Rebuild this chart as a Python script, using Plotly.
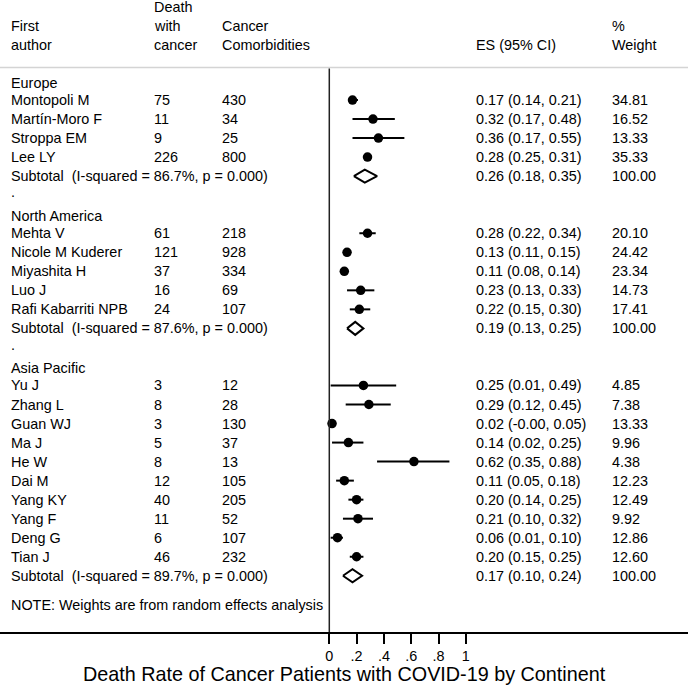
import plotly.graph_objects as go

# ---------------- data ----------------
authors = ["Montopoli M", "Martín-Moro F", "Stroppa EM", "Lee LY",
           "Mehta V", "Nicole M Kuderer", "Miyashita H", "Luo J", "Rafi Kabarriti NPB",
           "Yu J", "Zhang L", "Guan WJ", "Ma J", "He W", "Dai M", "Yang KY", "Yang F", "Deng G", "Tian J"]
groups = ["Europe"] * 4 + ["North America"] * 5 + ["Asia Pacific"] * 10
deaths = [75, 11, 9, 226, 61, 121, 37, 16, 24, 3, 8, 3, 5, 8, 12, 40, 11, 6, 46]
cancer = [430, 34, 25, 800, 218, 928, 334, 69, 107, 12, 28, 130, 37, 13, 105, 205, 52, 107, 232]
es = [0.17, 0.32, 0.36, 0.28, 0.28, 0.13, 0.11, 0.23, 0.22,
      0.25, 0.29, 0.02, 0.14, 0.62, 0.11, 0.20, 0.21, 0.06, 0.20]
lo = [0.14, 0.17, 0.17, 0.25, 0.22, 0.11, 0.08, 0.13, 0.15,
      0.01, 0.12, -0.00, 0.02, 0.35, 0.05, 0.14, 0.10, 0.01, 0.15]
hi = [0.21, 0.48, 0.55, 0.31, 0.34, 0.15, 0.14, 0.33, 0.30,
      0.49, 0.45, 0.05, 0.25, 0.88, 0.18, 0.25, 0.32, 0.10, 0.25]
es_txt = ["0.17 (0.14, 0.21)", "0.32 (0.17, 0.48)", "0.36 (0.17, 0.55)", "0.28 (0.25, 0.31)",
          "0.28 (0.22, 0.34)", "0.13 (0.11, 0.15)", "0.11 (0.08, 0.14)", "0.23 (0.13, 0.33)", "0.22 (0.15, 0.30)",
          "0.25 (0.01, 0.49)", "0.29 (0.12, 0.45)", "0.02 (-0.00, 0.05)", "0.14 (0.02, 0.25)", "0.62 (0.35, 0.88)",
          "0.11 (0.05, 0.18)", "0.20 (0.14, 0.25)", "0.21 (0.10, 0.32)", "0.06 (0.01, 0.10)", "0.20 (0.15, 0.25)"]
weights = ["34.81", "16.52", "13.33", "35.33",
           "20.10", "24.42", "23.34", "14.73", "17.41",
           "4.85", "7.38", "13.33", "9.96", "4.38", "12.23", "12.49", "9.92", "12.86", "12.60"]

group_names = ["Europe", "North America", "Asia Pacific"]
sub_label = ["Subtotal  (I-squared = 86.7%, p = 0.000)",
             "Subtotal  (I-squared = 87.6%, p = 0.000)",
             "Subtotal  (I-squared = 89.7%, p = 0.000)"]
sub_es = [0.26, 0.19, 0.17]
sub_lo = [0.18, 0.13, 0.10]
sub_hi = [0.35, 0.25, 0.24]
sub_txt = ["0.26 (0.18, 0.35)", "0.19 (0.13, 0.25)", "0.17 (0.10, 0.24)"]
sub_w = ["100.00", "100.00", "100.00"]

tick_vals = [0, 0.2, 0.4, 0.6, 0.8, 1]
tick_text = ["0", ".2", ".4", ".6", ".8", "1"]
x_title = "Death Rate of Cancer Patients with COVID-19 by Continent"
note = "NOTE: Weights are from random effects analysis"

# ---------------- layout constants ----------------
W, H = 688, 687
ZERO_PX, UNIT_PX = 329.3, 136.5
ROW0_PX, ROW_PX = 81.0, 19.03
AXIS_PX = 632
FONT = "Liberation Sans, Arial, Helvetica, sans-serif"
FS = 14.4

def px2row(p):
    return (p - ROW0_PX) / ROW_PX

x_range = [-ZERO_PX / UNIT_PX, (W - ZERO_PX) / UNIT_PX]
y_range = [px2row(AXIS_PX), px2row(0)]

PADX = 3
COL_AUTH, COL_D, COL_C, COL_ES, COL_W = 12 - PADX, 155 - PADX, 223 - PADX, 477 - PADX, 613 - PADX

# ---------------- build row structure ----------------
rows = []
for g_i, g in enumerate(group_names):
    rows.append(("head", g))
    for k in range(len(authors)):
        if groups[k] == g:
            rows.append(("study", k))
    rows.append(("sub", g_i))
    if g_i < len(group_names) - 1:
        rows.append(("dot", None))

annotations = []

def txt(px, row, s, size=FS, anchor="left"):
    annotations.append(dict(x=px / W, xref="paper", y=row, yref="y", text=s,
                            showarrow=False, xanchor=anchor, yanchor="middle",
                            font=dict(family=FONT, size=size, color="black")))

ci_x, ci_y, pt_x, pt_y, dia_x, dia_y = [], [], [], [], [], []
DH = 6.5 / ROW_PX
for r, (kind, p) in enumerate(rows):
    if kind == "head":
        txt(COL_AUTH, r + 0.08, p)
    elif kind == "dot":
        txt(COL_AUTH, r - 0.15, ".")
    elif kind == "study":
        k = p
        txt(COL_AUTH, r, authors[k])
        txt(COL_D, r, str(deaths[k]))
        txt(COL_C, r, str(cancer[k]))
        txt(COL_ES, r, es_txt[k])
        txt(COL_W, r, weights[k])
        ci_x += [lo[k], hi[k], None]
        ci_y += [r, r, None]
        pt_x.append(es[k])
        pt_y.append(r)
    elif kind == "sub":
        g = p
        txt(COL_AUTH, r, sub_label[g])
        txt(COL_ES, r, sub_txt[g])
        txt(COL_W, r, sub_w[g])
        dia_x += [sub_lo[g], sub_es[g], sub_hi[g], sub_es[g], sub_lo[g], None]
        dia_y += [r, r - DH, r, r + DH, r, None]

note_row = len(rows) + 0.55
txt(COL_AUTH, note_row, note)

# header
txt(COL_D, px2row(7), "Death")
txt(COL_AUTH, px2row(26), "First")
txt(COL_D, px2row(26), "with")
txt(COL_C, px2row(26), "Cancer")
txt(COL_W, px2row(26), "%")
txt(COL_AUTH, px2row(45), "author")
txt(COL_D, px2row(45), "cancer")
txt(COL_C, px2row(45), "Comorbidities")
txt(COL_ES, px2row(45), "ES (95% CI)")
txt(COL_W, px2row(45), "Weight")

# x-axis title
annotations.append(dict(x=0.5, xref="paper", y=0, yref="paper", text=x_title, showarrow=False,
                        xanchor="center", yanchor="middle", yshift=-(674 - AXIS_PX),
                        font=dict(family=FONT, size=19.8, color="black")))

fig = go.Figure()
fig.add_trace(go.Scatter(x=ci_x, y=ci_y, mode="lines",
                         line=dict(color="black", width=2), hoverinfo="skip", showlegend=False))
fig.add_trace(go.Scatter(x=pt_x, y=pt_y, mode="markers",
                         marker=dict(color="black", size=9.5, symbol="circle", line=dict(width=0)),
                         showlegend=False))
fig.add_trace(go.Scatter(x=dia_x, y=dia_y, mode="lines", fill="toself", fillcolor="white",
                         line=dict(color="black", width=2), hoverinfo="skip", showlegend=False))

shapes = [
    dict(type="line", xref="paper", x0=0, x1=1, yref="y", y0=px2row(67.5), y1=px2row(67.5),
         line=dict(color="#d4d4d4", width=1.5)),
    dict(type="line", xref="x", x0=0, x1=0, yref="y", y0=px2row(68.5), y1=px2row(AXIS_PX),
         line=dict(color="#222222", width=1.5)),
]

fig.update_layout(
    width=W, height=H,
    margin=dict(l=0, r=0, t=0, b=H - AXIS_PX, pad=0),
    paper_bgcolor="white", plot_bgcolor="white",
    showlegend=False,
    annotations=annotations,
    shapes=shapes,
    xaxis=dict(range=x_range, tickmode="array", tickvals=tick_vals, ticktext=tick_text,
               ticks="outside", ticklen=10, tickwidth=1.5, tickcolor="black",
               showline=True, linecolor="black", linewidth=1.5,
               showgrid=False, zeroline=False, fixedrange=True,
               tickfont=dict(family=FONT, size=14.4, color="black")),
    yaxis=dict(range=y_range, visible=False, showgrid=False, zeroline=False, fixedrange=True),
    font=dict(family=FONT, color="black"),
)

fig.write_html("out.html", config={"displayModeBar": False},
               post_script="document.body.style.margin='0';document.body.style.overflow='hidden';")
